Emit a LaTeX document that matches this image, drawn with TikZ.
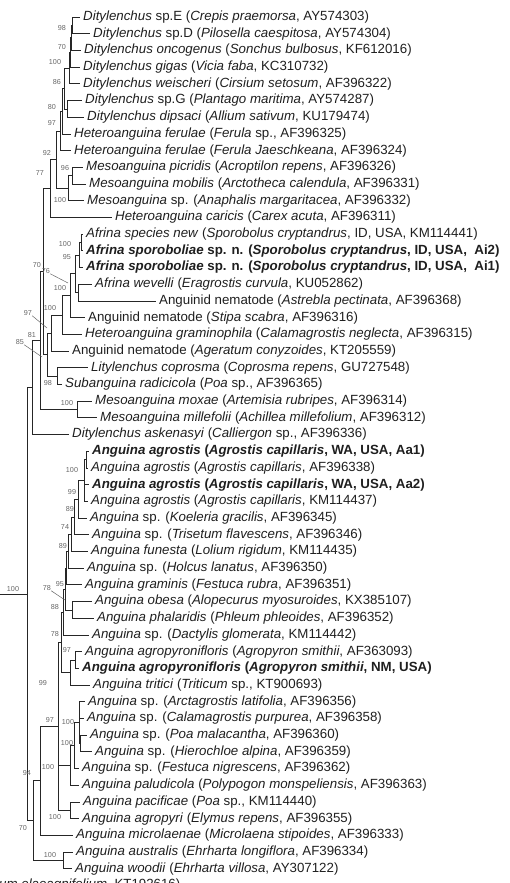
\documentclass[tikz,border=0pt]{standalone}
\usepackage{fontspec}
\setmainfont{Liberation Sans}
\newcommand{\leaffont}{\fontsize{13.3}{16}\selectfont}
\newcommand{\bootfont}{\fontsize{7.2}{8}\selectfont}
\tikzset{
    leaf/.style={anchor=west, inner xsep=3pt, inner ysep=0pt, text height=9.7pt,
        text depth=2.8pt, font=\leaffont, text=black!88},
    boot/.style={inner sep=0pt, font=\bootfont, text=black!60},
    branch/.style={every edge/.style={draw=black!85, line width=0.8pt,
        to path={|- (\tikztotarget)}}},
    leader/.style={draw=black!60, line width=0.5pt}
}

\begin{document}
\begin{tikzpicture}[x=1pt, y=-1pt]
	\useasboundingbox (0,0) rectangle (510,883);
	\clip (0,0) rectangle (510,883);

	% leaves
	\node[leaf] (1) at (80,17.0) {\textit{Ditylenchus} sp.E (\textit{Crepis praemorsa}, AY574303)};
	\node[leaf] (2) at (90,33.7) {\textit{Ditylenchus} sp.D (\textit{Pilosella caespitosa}, AY574304)};
	\node[leaf] (3) at (81,50.4) {\textit{Ditylenchus oncogenus} (\textit{Sonchus bulbosus}, KF612016)};
	\node[leaf] (4) at (80,67.1) {\textit{Ditylenchus gigas} (\textit{Vicia faba}, KC310732)};
	\node[leaf] (5) at (80,83.8) {\textit{Ditylenchus weischeri} (\textit{Cirsium setosum}, AF396322)};
	\node[leaf] (6) at (82,100.5) {\textit{Ditylenchus} sp.G (\textit{Plantago maritima}, AY574287)};
	\node[leaf] (7) at (84,117.2) {\textit{Ditylenchus dipsaci} (\textit{Allium sativum}, KU179474)};
	\node[leaf] (8) at (71,133.9) {\textit{Heteroanguina ferulae} (\textit{Ferula} sp., AF396325)};
	\node[leaf] (9) at (71,150.6) {\textit{Heteroanguina ferulae} (\textit{Ferula Jaeschkeana}, AF396324)};
	\node[leaf] (10) at (83,167.3) {\textit{Mesoanguina picridis} (\textit{Acroptilon repens}, AF396326)};
	\node[leaf] (11) at (86,184.0) {\textit{Mesoanguina mobilis} (\textit{Arctotheca calendula}, AF396331)};
	\node[leaf] (12) at (84,200.7) {\textit{Mesoanguina} sp. (\textit{Anaphalis margaritacea}, AF396332)};
	\node[leaf] (13) at (112,217.4) {\textit{Heteroanguina caricis} (\textit{Carex acuta}, AF396311)};
	\node[leaf] (14) at (83,234.1) {\textit{Afrina species new} (\textit{Sporobolus cryptandrus}, ID, USA, KM114441)};
	\node[leaf] (15) at (83,250.8) {\textbf{\textit{Afrina sporoboliae} sp. n. (\textit{Sporobolus cryptandrus}, ID, USA,~ Ai2)}};
	\node[leaf] (16) at (83,267.5) {\textbf{\textit{Afrina sporoboliae} sp. n. (\textit{Sporobolus cryptandrus}, ID, USA,~ Ai1)}};
	\node[leaf] (17) at (92,284.2) {\textit{Afrina wevelli} (\textit{Eragrostis curvula}, KU052862)};
	\node[leaf] (18) at (156,300.9) {Anguinid nematode (\textit{Astrebla pectinata}, AF396368)};
	\node[leaf] (19) at (85,317.6) {Anguinid nematode (\textit{Stipa scabra}, AF396316)};
	\node[leaf] (20) at (82,334.3) {\textit{Heteroanguina graminophila} (\textit{Calamagrostis neglecta}, AF396315)};
	\node[leaf] (21) at (69,351.0) {Anguinid nematode (\textit{Ageratum conyzoides}, KT205559)};
	\node[leaf] (22) at (88,367.7) {\textit{Litylenchus coprosma} (\textit{Coprosma repens}, GU727548)};
	\node[leaf] (23) at (62,384.4) {\textit{Subanguina radicicola} (\textit{Poa} sp., AF396365)};
	\node[leaf] (24) at (92,401.1) {\textit{Mesoanguina moxae} (\textit{Artemisia rubripes}, AF396314)};
	\node[leaf] (25) at (97,417.8) {\textit{Mesoanguina millefolii} (\textit{Achillea millefolium}, AF396312)};
	\node[leaf] (26) at (69,434.5) {\textit{Ditylenchus askenasyi} (\textit{Calliergon} sp., AF396336)};
	\node[leaf] (27) at (89,451.2) {\textbf{\textit{Anguina agrostis} (\textit{Agrostis capillaris}, WA, USA, Aa1)}};
	\node[leaf] (28) at (88,467.9) {\textit{Anguina agrostis} (\textit{Agrostis capillaris}, AF396338)};
	\node[leaf] (29) at (89,484.6) {\textbf{\textit{Anguina agrostis} (\textit{Agrostis capillaris}, WA, USA, Aa2)}};
	\node[leaf] (30) at (88,501.3) {\textit{Anguina agrostis} (\textit{Agrostis capillaris}, KM114437)};
	\node[leaf] (31) at (87,518.0) {\textit{Anguina} sp. (\textit{Koeleria gracilis}, AF396345)};
	\node[leaf] (32) at (89,534.7) {\textit{Anguina} sp. (\textit{Trisetum flavescens}, AF396346)};
	\node[leaf] (33) at (88,551.4) {\textit{Anguina funesta} (\textit{Lolium rigidum}, KM114435)};
	\node[leaf] (34) at (84,568.1) {\textit{Anguina} sp. (\textit{Holcus lanatus}, AF396350)};
	\node[leaf] (35) at (82,584.8) {\textit{Anguina graminis} (\textit{Festuca rubra}, AF396351)};
	\node[leaf] (36) at (92,601.5) {\textit{Anguina obesa} (\textit{Alopecurus myosuroides}, KX385107)};
	\node[leaf] (37) at (94,618.2) {\textit{Anguina phalaridis} (\textit{Phleum phleoides}, AF396352)};
	\node[leaf] (38) at (89,634.9) {\textit{Anguina} sp. (\textit{Dactylis glomerata}, KM114442)};
	\node[leaf] (39) at (82,651.6) {\textit{Anguina agropyronifloris} (\textit{Agropyron smithii}, AF363093)};
	\node[leaf] (40) at (79,668.3) {\textbf{\textit{Anguina agropyronifloris} (\textit{Agropyron smithii}, NM, USA)}};
	\node[leaf] (41) at (90,685.0) {\textit{Anguina tritici} (\textit{Triticum} sp., KT900693)};
	\node[leaf] (42) at (85,701.7) {\textit{Anguina} sp. (\textit{Arctagrostis latifolia}, AF396356)};
	\node[leaf] (43) at (84,718.4) {\textit{Anguina} sp. (\textit{Calamagrostis purpurea}, AF396358)};
	\node[leaf] (44) at (87,735.1) {\textit{Anguina} sp. (\textit{Poa malacantha}, AF396360)};
	\node[leaf] (45) at (92,751.8) {\textit{Anguina} sp. (\textit{Hierochloe alpina}, AF396359)};
	\node[leaf] (46) at (79,768.5) {\textit{Anguina} sp. (\textit{Festuca nigrescens}, AF396362)};
	\node[leaf] (47) at (79,785.2) {\textit{Anguina paludicola} (\textit{Polypogon monspeliensis}, AF396363)};
	\node[leaf] (48) at (80,801.9) {\textit{Anguina pacificae} (\textit{Poa} sp., KM114440)};
	\node[leaf] (49) at (79,818.6) {\textit{Anguina agropyri} (\textit{Elymus repens}, AF396355)};
	\node[leaf] (50) at (73,835.3) {\textit{Anguina microlaenae} (\textit{Microlaena stipoides}, AF396333)};
	\node[leaf] (51) at (73,852.0) {\textit{Anguina australis} (\textit{Ehrharta longiflora}, AF396334)};
	\node[leaf] (52) at (72,868.7) {\textit{Anguina woodii} (\textit{Ehrharta villosa}, AY307122)};
	\node[leaf, inner xsep=0pt] (53) at (-1,885.4) {\textit{um elaeagnifolium}, KT192616)};

	% internal nodes
	\coordinate (n1) at (72,25.4);   \coordinate (n2) at (71,37.9);
	\coordinate (n3) at (70,52.5);   \coordinate (n4) at (69,68.2);
	\coordinate (n5) at (67,108.9);  \coordinate (n6) at (64,88.5);
	\coordinate (n7) at (62,111.2);  \coordinate (n8) at (60,130.9);
	\coordinate (m1) at (72,175.7);  \coordinate (m2) at (68,188.2);
	\coordinate (n10) at (56,159.6); \coordinate (n11) at (50,188.5);
	\coordinate (f1a) at (81,242.5); \coordinate (f1) at (79,255.0);
	\coordinate (f2) at (78,292.6);  \coordinate (f3) at (75,273.8);
	\coordinate (f4) at (70,295.7);  \coordinate (f5) at (62,315.0);
	\coordinate (f6) at (51,333.0);  \coordinate (f7) at (57,376.0);
	\coordinate (G) at (47,354.5);   \coordinate (U) at (43,271.5);
	\coordinate (mm) at (77,409.5);  \coordinate (M) at (40,340.5);
	\coordinate (P) at (32,387.5);
	\coordinate (c1) at (86,459.6);  \coordinate (c2) at (84,480.4);
	\coordinate (c3) at (78,499.2);  \coordinate (c4) at (74,517.0);
	\coordinate (c5) at (71,534.2);  \coordinate (c6) at (68,551.2);
	\coordinate (c7) at (66,568.0);  \coordinate (c8) at (72,609.9);
	\coordinate (c9) at (65,589.0);  \coordinate (c10) at (63,612.0);
	\coordinate (c11) at (75,660.0); \coordinate (c12) at (70,672.5);
	\coordinate (c13) at (61,642.2);
	\coordinate (a0) at (80,743.5);  \coordinate (a1) at (79,722.6);
	\coordinate (a2) at (74,745.5);  \coordinate (a3) at (70,765.4);
	\coordinate (pa) at (70,810.2);  \coordinate (n97) at (58,726.2);
	\coordinate (n94) at (40,780.8); \coordinate (aw) at (63,860.4);
	\coordinate (n70) at (33,820.6); \coordinate (R) at (27,594.0);
	\coordinate (r0) at (0,594.0);

	% branches
	\draw[branch] (n1) edge (1) edge (2); \draw[branch] (n2) edge (n1) edge (3);
	\draw[branch] (n3) edge (n2) edge (4); \draw[branch] (n4) edge (n3) edge (5);
	\draw[branch] (n5) edge (6) edge (7); \draw[branch] (n6) edge (n4) edge (n5);
	\draw[branch] (n7) edge (n6) edge (8); \draw[branch] (n8) edge (n7) edge (9);
	\draw[branch] (m1) edge (10) edge (11); \draw[branch] (m2) edge (m1) edge (12);
	\draw[branch] (n10) edge (n8) edge (m2); \draw[branch] (n11) edge (n10) edge (13);
	\draw[branch] (f1a) edge (14) edge (15); \draw[branch] (f1) edge (f1a) edge (16);
	\draw[branch] (f2) edge (17) edge (18); \draw[branch] (f3) edge (f1) edge (f2);
	\draw[branch] (f4) edge (f3) edge (19); \draw[branch] (f5) edge (f4) edge (20);
	\draw[branch] (f6) edge (f5) edge (21); \draw[branch] (f7) edge (22) edge (23);
	\draw[branch] (G) edge (f6) edge (f7); \draw[branch] (U) edge (n11) edge (G);
	\draw[branch] (mm) edge (24) edge (25); \draw[branch] (M) edge (U) edge (mm);
	\draw[branch] (P) edge (M) edge (26);
	\draw[branch] (c1) edge (27) edge (28); \draw[branch] (c2) edge (c1) edge (29) edge (30);
	\draw[branch] (c3) edge (c2) edge (31); \draw[branch] (c4) edge (c3) edge (32);
	\draw[branch] (c5) edge (c4) edge (33); \draw[branch] (c6) edge (c5) edge (34);
	\draw[branch] (c7) edge (c6) edge (35); \draw[branch] (c8) edge (36) edge (37);
	\draw[branch] (c9) edge (c7) edge (c8); \draw[branch] (c10) edge (c9) edge (38);
	\draw[branch] (c11) edge (39) edge (40); \draw[branch] (c12) edge (c11) edge (41);
	\draw[branch] (c13) edge (c10) edge (c12);
	\draw[branch] (a0) edge (44) edge (45); \draw[branch] (a1) edge (42) edge (43) edge (a0);
	\draw[branch] (a2) edge (a1) edge (46); \draw[branch] (a3) edge (a2) edge (47);
	\draw[branch] (pa) edge (48) edge (49);
	\draw[branch] (n97) edge (c13) edge (a3) edge (pa);
	\draw[branch] (n94) edge (n97) edge (50); \draw[branch] (aw) edge (51) edge (52);
	\draw[branch] (n70) edge (n94) edge (aw); \draw[branch] (R) edge (P) edge (n70);
	\draw[draw=black!85, line width=0.8pt] (r0) -- (R);

	% bootstrap values
	\node[boot] (b1) at (62,28) {98};   \node[boot] (b2) at (62,47) {70};
	\node[boot] (b3) at (55,62) {100};  \node[boot] (b4) at (57,82) {86};
	\node[boot] (b5) at (52,107) {80};  \node[boot] (b6) at (52,123) {97};
	\node[boot] (b7) at (47,153) {92};  \node[boot] (b8) at (40,173) {77};
	\node[boot] (b9) at (65,168) {96};  \node[boot] (b10) at (60,200) {100};
	\node[boot] (b11) at (65,244) {100}; \node[boot] (b12) at (67,257) {95};
	\node[boot] (b13) at (46,271) {76}; \node[boot] (b14) at (37,265) {70};
	\node[boot] (b15) at (60,288) {100}; \node[boot] (b16) at (50,308) {100};
	\node[boot] (b17) at (28,313) {97}; \node[boot] (b18) at (32,335) {81};
	\node[boot] (b19) at (20,342) {85}; \node[boot] (b20) at (48,383) {98};
	\node[boot] (b21) at (67,403) {100};
	\node[boot] (b22) at (72,470) {100}; \node[boot] (b23) at (72,492) {99};
	\node[boot] (b24) at (70,509) {89}; \node[boot] (b25) at (65,527) {74};
	\node[boot] (b26) at (63,546) {89}; \node[boot] (b27) at (60,584) {95};
	\node[boot] (b28) at (47,588) {78}; \node[boot] (b29) at (55,607) {88};
	\node[boot] (b30) at (55,634) {78}; \node[boot] (b31) at (67,650) {97};
	\node[boot] (b32) at (43,683) {99}; \node[boot] (b33) at (50,720) {97};
	\node[boot] (b34) at (68,722) {100}; \node[boot] (b35) at (67,743) {100};
	\node[boot] (b36) at (48,767) {100}; \node[boot] (b37) at (27,773) {94};
	\node[boot] (b38) at (55,817) {100}; \node[boot] (b39) at (23,828) {70};
	\node[boot] (b40) at (50,855) {100}; \node[boot] (b41) at (13,589) {100};

	\coordinate (t13) at (68,283); \coordinate (t17) at (47,328);
	\coordinate (t19) at (42,357); \coordinate (t28) at (65,600);
	\draw[leader] (b13.south east) -- (t13); \draw[leader] (b17.south east) -- (t17);
	\draw[leader] (b19.south east) -- (t19); \draw[leader] (b28.south east) -- (t28);
\end{tikzpicture}
\end{document}
